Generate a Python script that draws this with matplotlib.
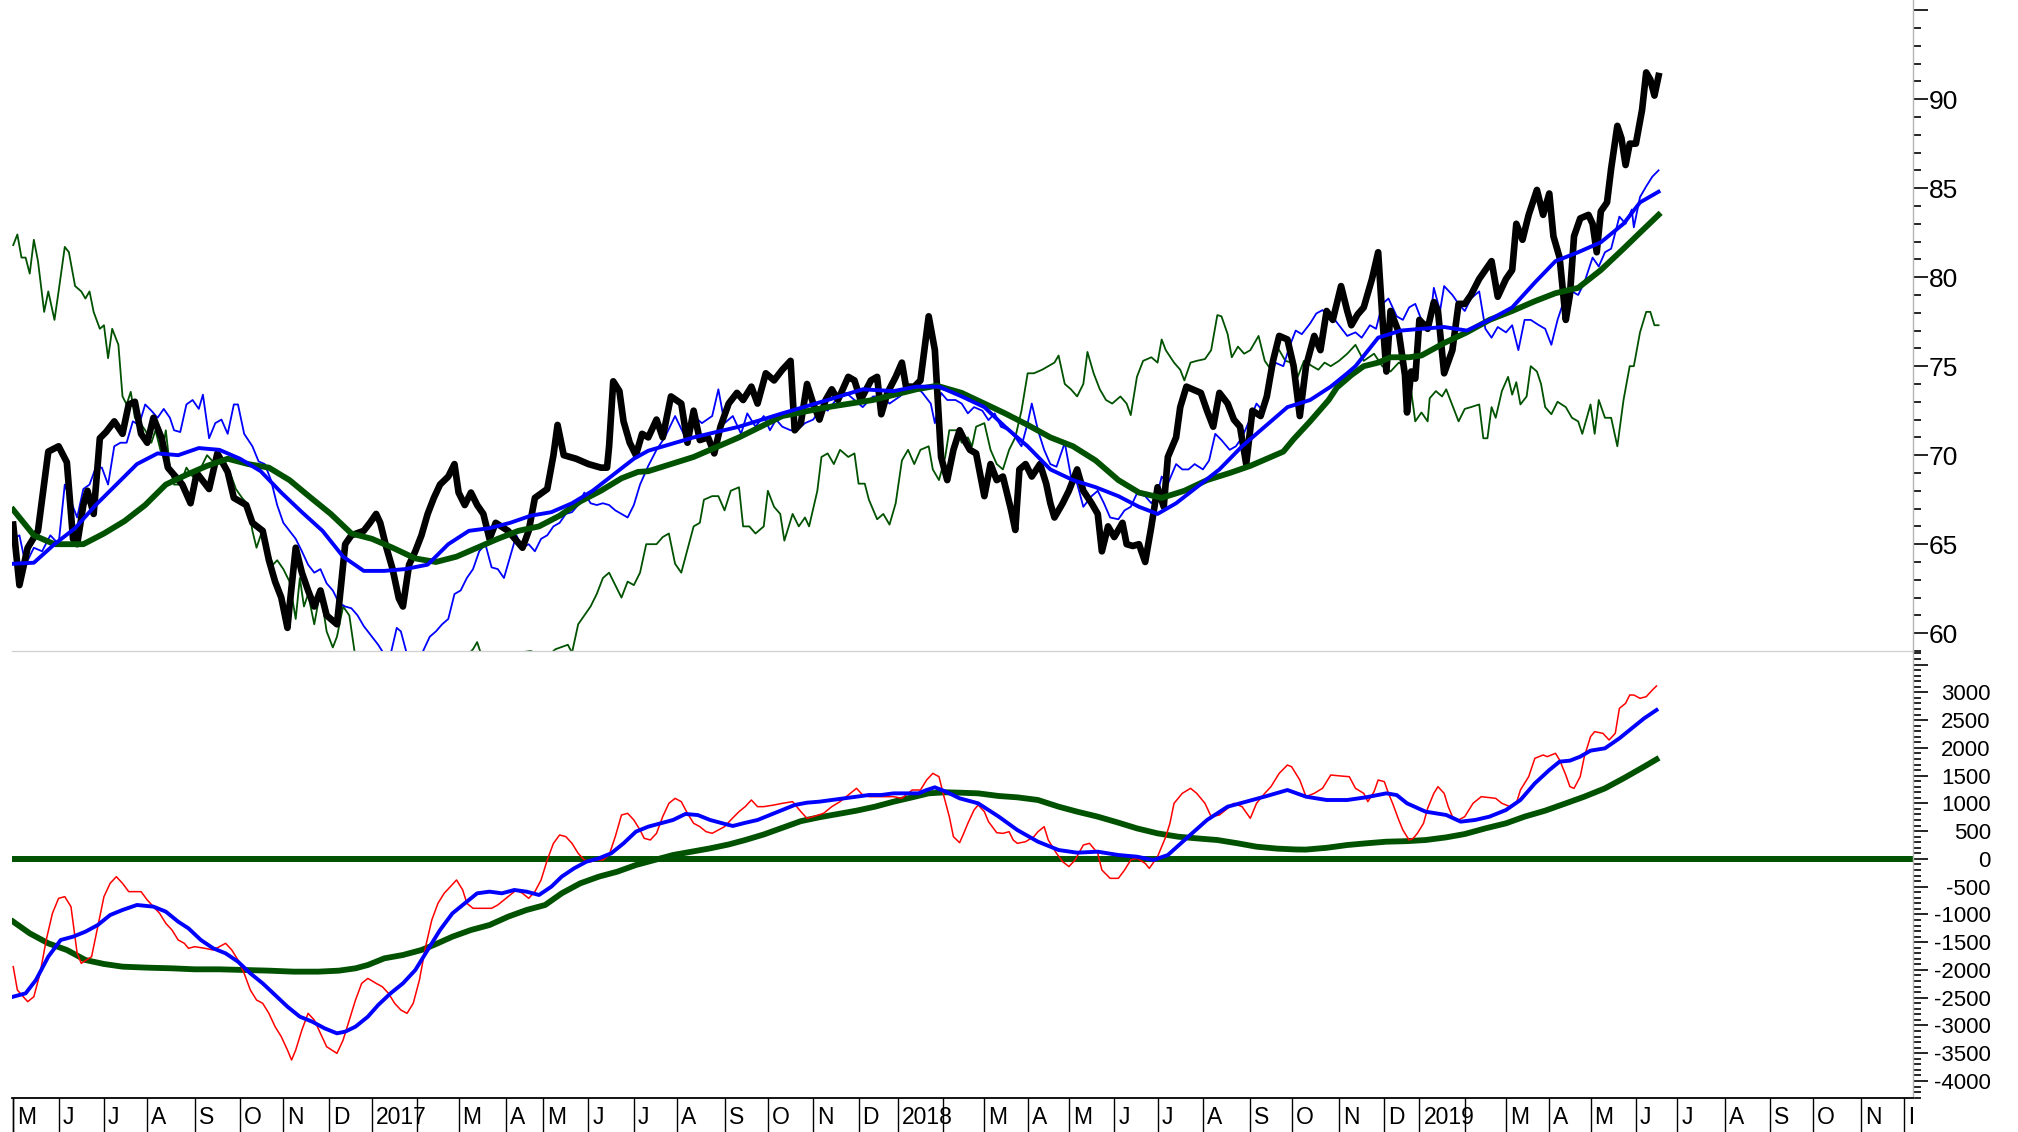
import matplotlib
matplotlib.use("Agg")
import matplotlib.pyplot as plt
import matplotlib.transforms as mtransforms
from matplotlib.ticker import MultipleLocator, FixedLocator
import numpy as np
import pandas as pd

# trading calendar (Xetra holidays)
holidays = ['2016-12-26', '2017-04-14', '2017-04-17', '2017-05-01', '2017-12-25', '2017-12-26',
            '2018-01-01', '2018-03-30', '2018-04-02', '2018-05-01', '2018-12-24', '2018-12-25',
            '2018-12-26', '2018-12-31', '2019-01-01', '2019-04-19', '2019-04-22', '2019-05-01',
            '2019-12-24', '2019-12-25', '2019-12-26', '2019-12-31']
days = pd.bdate_range('2016-05-02', '2019-12-31', freq='C', holidays=holidays)

# (trading day, value)
price = [(0, 66.1), (3, 62.7), (7, 64.8), (12, 65.75), (17, 70.2), (22, 70.5), (26, 69.6), (29, 65.3),
         (31, 65.0), (34, 67.2), (36, 68.0), (39, 66.7), (42, 70.95), (45, 71.3), (49, 71.9), (53, 71.2),
         (56, 72.85), (59, 73.0), (62, 71.2), (65, 70.7), (68, 72.1), (72, 70.95), (75, 69.3), (82, 68.35),
         (86, 67.3), (89, 69.0), (95, 68.1), (99, 70.1), (104, 69.06), (107, 67.6), (113, 67.2), (116, 66.2),
         (121, 65.75), (124, 64.1), (127, 62.9), (130, 62.0), (133, 60.3), (134, 61.5), (137, 64.8),
         (140, 63.4), (143, 62.4), (146, 61.5), (149, 62.4), (152, 61.0), (157, 60.5), (159, 62.7),
         (161, 65.0), (164, 65.5), (170, 65.75), (173, 66.2), (176, 66.7), (178, 66.2), (181, 64.8),
         (184, 63.6), (187, 61.96), (189, 61.5), (192, 63.85), (195, 64.6), (198, 65.5), (201, 66.7),
         (204, 67.6), (207, 68.35), (211, 68.8), (214, 69.5), (216, 67.9), (219, 67.2), (222, 67.9),
         (225, 67.2), (228, 66.7), (231, 65.3), (234, 66.2), (240, 65.75), (247, 64.8), (250, 65.75),
         (253, 67.6), (259, 68.1), (262, 70.0), (264, 71.7), (267, 70.0), (273, 69.8), (279, 69.5),
         (285, 69.3), (288, 69.3), (289, 70.5), (291, 74.15), (294, 73.6), (296, 71.9), (299, 70.7),
         (302, 70.0), (305, 71.2), (308, 71.0), (312, 72.0), (315, 71.0), (319, 73.3), (324, 72.9),
         (327, 70.7), (330, 72.5), (333, 70.85), (337, 71.0), (340, 70.1), (343, 71.6), (347, 72.9),
         (351, 73.5), (354, 73.1), (358, 73.85), (361, 72.9), (365, 74.6), (369, 74.2), (373, 74.8),
         (377, 75.3), (379, 71.4), (382, 71.8), (385, 74.0), (388, 72.9), (391, 72.0), (394, 73.1),
         (397, 73.7), (400, 73.1), (405, 74.4), (408, 74.2), (411, 73.1), (416, 74.2), (419, 74.4),
         (421, 72.3), (424, 73.5), (428, 74.4), (431, 75.2), (433, 73.85), (437, 73.85), (440, 74.2),
         (444, 77.8), (447, 75.9), (450, 69.9), (453, 68.6), (456, 70.3), (459, 71.4), (462, 70.7),
         (464, 70.3), (467, 70.1), (471, 67.7), (474, 69.5), (477, 68.6), (480, 68.8), (484, 66.9),
         (486, 65.8), (488, 69.2), (491, 69.5), (494, 68.8), (498, 69.5), (501, 68.4), (503, 67.3),
         (505, 66.5), (509, 67.3), (512, 68.0), (516, 69.2), (519, 68.0), (523, 67.3), (526, 66.7),
         (528, 64.6), (531, 66.0), (534, 65.4), (538, 66.2), (540, 65.0), (543, 64.9), (546, 65.0),
         (549, 64.0), (552, 66.0), (555, 68.2), (558, 67.1), (560, 69.9), (564, 71.0), (566, 72.7),
         (569, 73.85), (572, 73.7), (576, 73.5), (579, 72.5), (582, 71.6), (585, 73.5), (589, 72.9),
         (592, 72.0), (595, 71.6), (598, 69.5), (601, 72.5), (605, 72.2), (608, 73.3), (611, 75.3),
         (614, 76.7), (618, 76.5), (621, 75.0), (624, 72.2), (627, 75.0), (631, 76.7), (634, 75.9),
         (637, 78.1), (640, 77.6), (644, 79.5), (647, 78.1), (649, 77.3), (652, 77.9), (655, 78.3),
         (659, 79.9), (662, 81.4), (664, 77.8), (666, 74.7), (668, 78.1), (672, 76.9), (675, 74.5),
         (676, 72.4), (678, 74.7), (680, 74.3), (682, 77.6), (686, 77.1), (689, 78.6), (691, 78.1),
         (694, 74.6), (698, 75.9), (701, 78.5), (704, 78.5), (707, 79.0), (711, 79.9), (714, 80.4),
         (717, 80.9), (720, 78.9), (724, 79.9), (727, 80.4), (729, 83.0), (732, 82.1), (735, 83.5),
         (739, 84.9), (742, 83.5), (745, 84.7), (747, 82.3), (750, 81.1), (753, 77.6), (755, 79.0),
         (757, 82.3), (760, 83.3), (764, 83.5), (766, 83.0), (768, 81.4), (770, 83.7), (773, 84.2),
         (775, 86.1), (778, 88.5), (780, 87.8), (782, 86.3), (784, 87.5), (787, 87.5), (790, 89.4),
         (792, 91.5), (794, 91.1), (796, 90.2), (798, 91.3)]

ref_blue = [(0, 65.3), (3, 65.5), (6, 63.85), (10, 64.8), (14, 64.6), (18, 65.5), (22, 65.0), (25, 68.35),
            (28, 67.4), (31, 66.5), (34, 68.1), (37, 68.35), (40, 69.3), (43, 69.3), (46, 68.35), (49, 70.5),
            (52, 70.7), (55, 70.7), (58, 71.9), (61, 71.7), (64, 72.85), (67, 72.5), (70, 72.1), (73, 72.6),
            (76, 72.1), (78, 71.4), (81, 71.3), (84, 72.85), (87, 73.1), (90, 72.6), (92, 73.4), (95, 70.95),
            (98, 71.8), (101, 72.0), (104, 71.2), (107, 72.85), (109, 72.85), (112, 71.2), (116, 70.5),
            (119, 69.65), (122, 69.5), (125, 68.6), (128, 67.2), (131, 66.2), (134, 65.75), (137, 65.3),
            (140, 64.6), (143, 63.85), (146, 63.4), (149, 63.6), (152, 62.8), (155, 62.4), (158, 61.7),
            (161, 61.5), (164, 61.4), (167, 61.0), (170, 60.4), (174, 59.8), (177, 59.35), (180, 58.8),
            (183, 58.8), (186, 60.3), (188, 60.1), (191, 58.8), (195, 58.8), (198, 58.8), (202, 59.8),
            (205, 60.1), (208, 60.5), (211, 60.8), (214, 62.2), (217, 62.4), (220, 63.1), (223, 63.6),
            (226, 64.6), (229, 65.0), (232, 63.7), (235, 63.6), (238, 63.1), (241, 64.3), (244, 65.5),
            (247, 64.8), (250, 65.0), (253, 64.6), (256, 65.3), (259, 65.5), (262, 66.0), (265, 66.2),
            (268, 66.7), (271, 66.8), (274, 67.2), (277, 67.9), (280, 67.3), (283, 67.2), (286, 67.3),
            (289, 67.2), (292, 66.9), (295, 66.7), (298, 66.5), (301, 67.2), (304, 68.35), (308, 69.4),
            (312, 70.3), (316, 71.0), (321, 72.2), (326, 71.0), (330, 72.2), (334, 71.8), (339, 72.2),
            (342, 73.7), (345, 71.8), (349, 72.2), (353, 71.2), (356, 72.35), (360, 71.6), (364, 72.2),
            (367, 71.4), (370, 72.0), (373, 71.6), (377, 71.4), (380, 71.4), (384, 71.8), (388, 72.0),
            (392, 72.7), (395, 72.5), (399, 73.1), (404, 73.5), (408, 73.1), (412, 72.7), (417, 73.3),
            (421, 73.3), (425, 72.9), (430, 73.3), (434, 73.7), (438, 73.85), (441, 73.5), (445, 72.9),
            (447, 71.8), (450, 73.5), (453, 73.1), (457, 73.1), (460, 72.9), (463, 72.35), (466, 72.7),
            (470, 72.5), (473, 71.97), (476, 72.35), (479, 71.6), (483, 71.4), (486, 71.0), (489, 70.5),
            (492, 71.8), (494, 72.9), (497, 71.4), (500, 70.3), (503, 69.5), (506, 69.35), (510, 70.7),
            (513, 68.8), (516, 68.4), (519, 67.1), (523, 67.7), (526, 68.0), (529, 67.3), (532, 66.5),
            (536, 66.4), (539, 66.9), (542, 67.1), (545, 67.85), (549, 67.7), (552, 67.3), (555, 67.85),
            (557, 68.8), (560, 68.4), (564, 69.5), (567, 69.2), (570, 69.2), (573, 69.5), (577, 69.2),
            (580, 69.7), (583, 71.2), (586, 70.85), (590, 70.3), (593, 70.5), (596, 71.0), (599, 71.8),
            (603, 72.9), (606, 72.5), (609, 73.7), (612, 75.2), (616, 75.0), (619, 76.1), (622, 77.0),
            (625, 76.8), (629, 77.4), (632, 77.96), (635, 78.15), (638, 77.8), (641, 77.6), (645, 77.0),
            (647, 76.7), (651, 76.9), (654, 76.6), (658, 77.3), (661, 77.1), (664, 78.5), (667, 78.8),
            (671, 77.8), (674, 77.6), (677, 78.3), (680, 78.5), (683, 77.6), (687, 77.3), (689, 79.4),
            (692, 78.1), (694, 79.5), (698, 79.0), (701, 78.5), (704, 78.1), (707, 78.8), (711, 79.2),
            (714, 77.1), (717, 76.6), (720, 77.2), (724, 76.9), (727, 77.3), (730, 75.9), (733, 77.6),
            (736, 77.6), (740, 77.3), (743, 77.1), (746, 76.2), (749, 77.6), (753, 79.0), (756, 79.2),
            (759, 79.0), (762, 79.7), (766, 81.1), (769, 80.6), (772, 81.4), (775, 81.6), (779, 83.4),
            (782, 83.0), (785, 83.8), (786, 82.8), (789, 84.5), (792, 85.1), (795, 85.65), (798, 86.0)]

ref_green = [(0, 81.8), (2, 82.4), (4, 81.1), (6, 81.1), (8, 80.2), (10, 82.1), (12, 80.9), (14, 79.0),
             (15, 78.05), (17, 79.2), (20, 77.6), (22, 79.2), (25, 81.7), (27, 81.4), (30, 79.5), (33, 79.2),
             (35, 78.8), (37, 79.2), (39, 78.05), (42, 77.1), (44, 77.3), (46, 75.45), (48, 77.1), (51, 76.2),
             (53, 73.3), (55, 72.85), (57, 73.56), (59, 72.1), (61, 71.9), (64, 71.4), (67, 70.7), (69, 71.4),
             (72, 70.0), (74, 71.4), (76, 69.3), (78, 68.35), (81, 68.35), (84, 69.3), (87, 68.8), (90, 69.06),
             (94, 70.0), (98, 69.5), (102, 69.8), (105, 69.06), (108, 68.1), (111, 67.6), (114, 67.2),
             (116, 65.75), (118, 64.8), (120, 65.5), (123, 64.8), (126, 63.85), (128, 64.1), (131, 63.6),
             (134, 62.9), (137, 60.8), (139, 63.1), (141, 61.5), (143, 62.2), (146, 60.5), (149, 62.4),
             (152, 60.1), (155, 59.2), (157, 59.8), (160, 61.5), (163, 61.0), (166, 58.6), (170, 57.8),
             (180, 57.5), (190, 57.8), (200, 58.2), (210, 58.0), (218, 58.5), (223, 59.1), (225, 59.5),
             (227, 58.8), (235, 58.4), (245, 58.9), (251, 59.0), (258, 58.6), (263, 59.1), (269, 59.35),
             (271, 58.9), (274, 60.5), (277, 61.0), (280, 61.5), (283, 62.2), (286, 63.1), (289, 63.4),
             (292, 62.7), (295, 62.0), (298, 62.9), (301, 62.7), (304, 63.4), (307, 65.0), (312, 65.0),
             (315, 65.4), (318, 65.6), (321, 63.9), (324, 63.4), (327, 64.7), (330, 66.0), (333, 66.2),
             (335, 67.5), (339, 67.7), (342, 67.7), (345, 66.9), (348, 68.0), (352, 68.2), (354, 66.0),
             (357, 66.0), (360, 65.6), (364, 66.0), (366, 68.0), (369, 67.1), (372, 66.7), (374, 65.2),
             (378, 66.7), (381, 66.0), (384, 66.5), (386, 66.0), (390, 68.0), (392, 69.9), (395, 70.1),
             (398, 69.5), (401, 70.3), (405, 69.9), (408, 70.1), (410, 68.4), (413, 68.4), (415, 67.5),
             (419, 66.4), (422, 66.7), (425, 66.1), (428, 67.3), (431, 69.7), (434, 70.3), (437, 69.5),
             (440, 70.3), (444, 70.5), (446, 69.2), (449, 68.6), (452, 69.9), (454, 71.4), (458, 71.4),
             (460, 70.7), (463, 71.0), (465, 70.5), (467, 71.6), (471, 71.8), (474, 70.3), (477, 69.5),
             (480, 69.2), (483, 70.3), (486, 71.0), (489, 72.5), (492, 74.6), (495, 74.6), (499, 74.8),
             (502, 75.0), (505, 75.2), (507, 75.6), (510, 74.0), (513, 73.7), (516, 73.3), (519, 74.0),
             (521, 75.8), (524, 74.6), (527, 73.7), (530, 73.1), (533, 72.9), (537, 73.3), (540, 72.9),
             (542, 72.25), (545, 74.4), (548, 75.3), (552, 75.5), (555, 75.2), (557, 76.5), (559, 75.9),
             (563, 75.2), (566, 74.8), (568, 74.2), (571, 75.2), (574, 75.3), (578, 75.4), (581, 75.9),
             (584, 77.87), (586, 77.8), (589, 76.8), (591, 75.5), (594, 76.1), (597, 75.7), (600, 75.9),
             (604, 76.7), (607, 75.3), (610, 74.8), (613, 76.1), (617, 75.3), (620, 75.2), (623, 74.4),
             (626, 75.3), (630, 75.0), (633, 74.8), (636, 75.2), (639, 75.0), (643, 75.3), (647, 75.7),
             (651, 76.2), (655, 75.3), (660, 75.7), (664, 75.0), (668, 74.7), (672, 75.2), (675, 75.0),
             (678, 73.6), (680, 71.9), (683, 72.4), (686, 71.9), (687, 73.2), (690, 73.6), (693, 73.3),
             (695, 73.7), (699, 72.5), (701, 71.9), (704, 72.6), (707, 72.7), (711, 72.85), (713, 70.95),
             (715, 70.95), (717, 72.7), (719, 72.1), (722, 73.6), (725, 74.4), (727, 73.4), (729, 74.1),
             (731, 72.85), (734, 73.3), (736, 75.0), (739, 74.7), (741, 74.0), (743, 72.7), (746, 72.3),
             (749, 73.0), (753, 72.7), (756, 72.1), (759, 71.9), (761, 71.2), (765, 72.85), (767, 71.2),
             (769, 73.1), (772, 72.1), (775, 72.1), (778, 70.5), (781, 73.1), (784, 75.0), (786, 75.0),
             (789, 76.9), (792, 78.05), (794, 78.05), (796, 77.3), (798, 77.3)]

ma_fast = [(0, 63.9), (10, 63.96), (20, 65.0), (30, 65.9), (40, 67.2), (50, 68.35), (60, 69.5), (70, 70.1),
           (80, 70.0), (90, 70.4), (100, 70.3), (110, 69.8), (120, 69.1), (130, 67.9), (140, 66.8),
           (150, 65.75), (160, 64.3), (170, 63.5), (180, 63.5), (190, 63.6), (201, 63.85), (211, 65.0),
           (221, 65.75), (231, 65.9), (241, 66.2), (251, 66.6), (261, 66.8), (271, 67.3), (281, 68.0),
           (291, 68.9), (301, 69.8), (308, 70.25), (330, 71.0), (352, 71.6), (373, 72.35), (395, 73.1),
           (412, 73.7), (427, 73.6), (438, 73.85), (449, 73.85), (460, 73.3), (471, 72.7), (481, 71.6),
           (492, 70.5), (503, 69.2), (514, 68.6), (525, 68.2), (536, 67.7), (546, 67.1), (555, 66.7),
           (564, 67.3), (574, 68.2), (585, 69.2), (596, 70.5), (607, 71.6), (618, 72.7), (629, 73.1),
           (639, 73.85), (647, 74.6), (651, 75.0), (662, 76.6), (673, 77.0), (683, 77.1), (694, 77.2),
           (705, 77.0), (716, 77.6), (727, 78.3), (738, 79.7), (748, 80.9), (759, 81.4), (770, 81.96),
           (781, 83.0), (789, 84.2), (798, 84.8)]

ma_slow = [(0, 66.93), (10, 65.5), (20, 65.0), (34, 65.0), (44, 65.6), (54, 66.3), (64, 67.2), (74, 68.35),
           (84, 68.9), (94, 69.4), (104, 69.8), (114, 69.5), (124, 69.3), (134, 68.6), (144, 67.64),
           (154, 66.7), (164, 65.6), (174, 65.3), (184, 64.8), (195, 64.2), (205, 64.0), (215, 64.3),
           (225, 64.8), (235, 65.3), (245, 65.75), (255, 66.0), (265, 66.6), (275, 67.4), (285, 68.0),
           (295, 68.7), (303, 69.06), (308, 69.1), (330, 69.9), (352, 71.0), (373, 72.2), (395, 72.7),
           (417, 73.1), (438, 73.7), (448, 73.9), (460, 73.5), (471, 72.9), (481, 72.35), (492, 71.7),
           (503, 71.0), (514, 70.5), (525, 69.7), (536, 68.6), (546, 67.9), (557, 67.6), (568, 68.0),
           (579, 68.6), (590, 69.0), (600, 69.4), (608, 69.8), (616, 70.2), (621, 70.9), (629, 71.9),
           (638, 73.1), (642, 73.8), (649, 74.5), (655, 75.0), (662, 75.2), (668, 75.5), (677, 75.5),
           (683, 75.6), (694, 76.3), (705, 76.9), (716, 77.6), (727, 78.1), (738, 78.65), (748, 79.1),
           (759, 79.4), (770, 80.4), (781, 81.6), (789, 82.5), (798, 83.5)]

osc = [(0, -1941), (2, -2362), (7, -2572), (10, -2482), (13, -2062), (16, -1461), (19, -981), (22, -710),
       (25, -680), (28, -860), (31, -1701), (33, -1881), (38, -1761), (41, -1221), (44, -680), (47, -440),
       (50, -320), (53, -440), (56, -590), (59, -590), (62, -590), (65, -740), (68, -860), (71, -981),
       (74, -1161), (77, -1281), (80, -1461), (83, -1521), (85, -1611), (88, -1581), (93, -1611),
       (97, -1641), (100, -1581), (103, -1521), (106, -1641), (109, -1821), (112, -2062), (115, -2362),
       (118, -2542), (121, -2602), (124, -2782), (127, -3022), (130, -3202), (133, -3443), (135, -3623),
       (137, -3443), (140, -3082), (143, -2782), (146, -2902), (149, -3142), (152, -3383), (157, -3503),
       (160, -3262), (163, -2902), (166, -2542), (169, -2242), (172, -2152), (176, -2242), (179, -2302),
       (182, -2422), (185, -2602), (188, -2722), (191, -2782), (194, -2602), (197, -2182), (200, -1581),
       (203, -1101), (206, -800), (209, -620), (212, -500), (215, -380), (218, -560), (220, -800),
       (223, -890), (228, -890), (232, -890), (235, -830), (238, -740), (241, -650), (244, -560),
       (247, -620), (250, -710), (253, -590), (256, -380), (259, -20), (262, 280), (265, 431), (268, 401),
       (271, 280), (274, 100), (277, -20), (280, -50), (283, -20), (286, -20), (289, 70), (292, 401),
       (295, 791), (298, 821), (301, 701), (304, 521), (306, 371), (309, 341), (312, 461), (315, 761),
       (318, 1001), (321, 1091), (324, 1031), (327, 821), (330, 641), (333, 581), (336, 491), (339, 461),
       (342, 521), (345, 581), (348, 701), (352, 851), (355, 941), (358, 1061), (361, 941), (364, 941),
       (369, 971), (373, 1001), (378, 1031), (382, 851), (385, 731), (388, 761), (393, 821), (397, 941),
       (401, 1031), (406, 1181), (409, 1271), (412, 1151), (415, 1121), (421, 1121), (427, 1121),
       (431, 1091), (436, 1241), (440, 1241), (443, 1421), (446, 1541), (449, 1481), (451, 1181),
       (454, 761), (456, 400), (459, 292), (461, 460), (463, 641), (466, 881), (468, 971), (471, 851),
       (473, 671), (477, 472), (480, 460), (483, 490), (485, 340), (487, 280), (491, 310), (495, 400),
       (497, 490), (500, 580), (502, 340), (506, 100), (509, -50), (512, -139), (515, -19), (519, 250),
       (522, 280), (526, 100), (528, -200), (532, -350), (536, -350), (539, -200), (542, -19), (545, 10),
       (549, -80), (551, -170), (555, 40), (559, 400), (561, 641), (563, 1001), (567, 1181), (571, 1271),
       (574, 1181), (578, 1001), (581, 761), (585, 791), (589, 911), (592, 1001), (596, 941), (600, 731),
       (603, 1001), (607, 1181), (610, 1301), (614, 1541), (618, 1691), (620, 1661), (624, 1421),
       (627, 1121), (631, 1181), (635, 1271), (639, 1511), (644, 1493), (648, 1481), (651, 1271),
       (655, 1181), (657, 1031), (660, 1211), (662, 1421), (665, 1391), (667, 1181), (669, 1001),
       (672, 701), (674, 520), (677, 340), (679, 370), (681, 460), (684, 641), (686, 911), (689, 1181),
       (691, 1301), (694, 1181), (696, 941), (698, 761), (701, 701), (704, 761), (708, 1001), (712, 1121),
       (715, 1109), (719, 1091), (722, 1001), (726, 941), (729, 1001), (731, 1241), (735, 1481),
       (738, 1812), (742, 1872), (744, 1842), (748, 1902), (750, 1782), (753, 1511), (755, 1301),
       (757, 1271), (760, 1481), (762, 1842), (765, 2202), (767, 2292), (771, 2262), (774, 2142),
       (777, 2262), (779, 2712), (782, 2802), (784, 2952), (786, 2952), (789, 2893), (792, 2922),
       (795, 3043), (797, 3115)]

osc_fast = [(0, -2482), (6, -2422), (11, -2182), (17, -1761), (23, -1461), (29, -1401), (35, -1311),
            (41, -1191), (47, -1011), (53, -920), (60, -830), (68, -860), (74, -950), (80, -1131),
            (85, -1251), (91, -1461), (97, -1611), (103, -1701), (109, -1851), (115, -2062), (121, -2242),
            (127, -2452), (133, -2662), (139, -2842), (145, -2932), (151, -3052), (157, -3142),
            (161, -3112), (166, -3022), (172, -2842), (177, -2632), (183, -2422), (189, -2242),
            (195, -2002), (201, -1641), (207, -1281), (213, -981), (219, -800), (225, -620), (231, -590),
            (237, -620), (243, -560), (249, -590), (255, -650), (261, -500), (266, -320), (272, -170),
            (278, -50), (284, 10), (290, 100), (296, 280), (302, 491), (308, 581), (314, 641), (320, 701),
            (326, 809), (332, 790), (338, 701), (344, 641), (349, 593), (355, 650), (361, 701), (367, 791),
            (373, 881), (379, 971), (385, 1013), (391, 1031), (397, 1061), (403, 1091), (409, 1121),
            (415, 1151), (421, 1151), (427, 1181), (433, 1181), (439, 1181), (443, 1241), (447, 1290),
            (453, 1200), (459, 1091), (468, 1001), (478, 761), (487, 520), (497, 310), (507, 160),
            (516, 112), (526, 130), (536, 70), (545, 40), (553, -20), (560, 70), (569, 370), (579, 701),
            (589, 941), (598, 1031), (608, 1133), (618, 1241), (627, 1121), (637, 1061), (647, 1061),
            (656, 1109), (666, 1181), (671, 1150), (676, 1001), (685, 851), (695, 791), (702, 671),
            (709, 701), (716, 761), (724, 881), (731, 1061), (738, 1361), (745, 1601), (750, 1752),
            (755, 1770), (760, 1842), (765, 1950), (772, 1992), (779, 2172), (786, 2382), (791, 2532),
            (797, 2682)]

osc_slow = [(0, -1131), (8, -1341), (17, -1521), (26, -1641), (35, -1821), (44, -1893), (53, -1941),
            (65, -1959), (77, -1971), (88, -1989), (100, -1989), (112, -2001), (124, -2013), (136, -2031),
            (148, -2031), (158, -2013), (166, -1971), (172, -1911), (180, -1791), (189, -1731),
            (198, -1641), (204, -1551), (213, -1401), (222, -1281), (231, -1191), (240, -1041), (249, -920),
            (258, -830), (266, -620), (275, -440), (284, -320), (293, -230), (302, -110), (311, -20),
            (320, 70), (329, 130), (338, 190), (347, 260), (355, 340), (364, 440), (373, 560), (382, 680),
            (391, 750), (400, 809), (409, 869), (418, 941), (427, 1031), (436, 1109), (444, 1181),
            (452, 1200), (459, 1193), (468, 1181), (478, 1133), (487, 1109), (497, 1061), (507, 941),
            (516, 851), (526, 761), (536, 653), (545, 550), (555, 460), (565, 400), (574, 370), (584, 340),
            (594, 280), (603, 220), (613, 185), (622, 170), (627, 168), (637, 200), (647, 250), (656, 280),
            (666, 310), (676, 320), (685, 340), (695, 388), (704, 448), (714, 550), (724, 641), (733, 761),
            (743, 869), (753, 1001), (762, 1121), (772, 1271), (781, 1451), (791, 1662), (797, 1793)]

W, H = 2018, 1132
GREEN = '#005200'
fig = plt.figure(figsize=(W / 100, H / 100), dpi=100)
L, R = 12 / W, 1913 / W
ax1 = fig.add_axes([L, 1 - 651 / H, R - L, 651 / H])
ax2 = fig.add_axes([L, 34 / H, R - L, (1098 - 651) / H])
ax3 = fig.add_axes([L, 0, R - L, 34 / H])

xlim = (-0.6, 921.4)


def xy(pts):
    d, v = zip(*pts)
    return np.array(d), np.array(v)


ax1.plot(*xy(ref_green), color=GREEN, lw=1.3, zorder=2)
ax1.plot(*xy(ref_blue), color='#0000ff', lw=1.3, zorder=3)
ax1.plot(*xy(price), color='black', lw=4.8, zorder=4)
ax1.plot(*xy(ma_slow), color=GREEN, lw=4.2, zorder=5)
ax1.plot(*xy(ma_fast), color='#0000ff', lw=2.8, zorder=6)
ax1.set_ylim(59.0, 95.57)

ax2.axhline(0, color=GREEN, lw=4.3, zorder=2)
ax2.plot(*xy(osc_slow), color=GREEN, lw=4.2, zorder=3)
ax2.plot(*xy(osc), color='#ff0000', lw=1.1, zorder=4)
ax2.plot(*xy(osc_fast), color='#0000ff', lw=2.8, zorder=5)
ax2.set_ylim(-4307, 3745)

for ax in (ax1, ax2):
    ax.set_xlim(*xlim)
    ax.set_xticks([])
    for s in ('left', 'top', 'bottom'):
        ax.spines[s].set_visible(False)
    ax.spines['right'].set_color('#b4b4b4')
    ax.spines['right'].set_linewidth(1)
    ax.yaxis.tick_right()
    ax.tick_params(axis='y', which='major', direction='out', length=11, width=1.2, color='black')
    ax.tick_params(axis='y', which='minor', direction='out', length=5.5, width=1.2, color='black')
    ax.set_facecolor('none')

ax1.spines['bottom'].set_visible(True)
ax1.spines['bottom'].set_color('#d2d2d2')
ax1.spines['bottom'].set_linewidth(1)

# tick label right edges: ~1958 px (upper) and ~1991 px (lower)
ax1.yaxis.set_major_locator(FixedLocator(np.arange(60, 96, 5)))
ax1.yaxis.set_minor_locator(MultipleLocator(1))
ax1.set_yticklabels([str(v) if v <= 90 else '' for v in range(60, 96, 5)],
                    fontsize=19, family='Liberation Sans')
ax1.tick_params(axis='y', which='major', pad=21.5)
for t in ax1.get_yticklabels():
    t.set_horizontalalignment('right')

ax2.yaxis.set_major_locator(FixedLocator(np.arange(-4000, 3501, 500)))
ax2.yaxis.set_minor_locator(MultipleLocator(100))
ax2.set_yticklabels([str(v) if v <= 3000 else '' for v in range(-4000, 3501, 500)],
                    fontsize=16, family='Liberation Sans')
ax2.tick_params(axis='y', which='major', pad=45)
for t in ax2.get_yticklabels():
    t.set_horizontalalignment('right')

# month strip
ax3.set_xlim(*xlim)
ax3.set_ylim(0, 1)
ax3.set_xticks([])
ax3.set_yticks([])
for s in ('left', 'right', 'bottom'):
    ax3.spines[s].set_visible(False)
ax3.spines['top'].set_linewidth(1.3)

starts = np.flatnonzero(np.r_[True, days.month[1:] != days.month[:-1]])
off = mtransforms.ScaledTranslation(4 / 100, 0, fig.dpi_scale_trans)
letters = 'JFMAMJJASOND'
for s in starts:
    m = days[s].month
    lab = str(days[s].year) if m == 1 else ('' if m == 2 else letters[m - 1])
    ax3.axvline(s, color='black', lw=1.0, zorder=3)
    if lab:
        ax3.text(s, 0.42, lab, transform=ax3.get_xaxis_transform() + off, ha='left', va='center',
                 fontsize=16.5, family=['Liberation Sans Narrow', 'Liberation Sans'], clip_on=True)
ax3.axvline(xlim[0] + 0.3, color='black', lw=1.0)

fig.savefig('out.png', dpi=100)
